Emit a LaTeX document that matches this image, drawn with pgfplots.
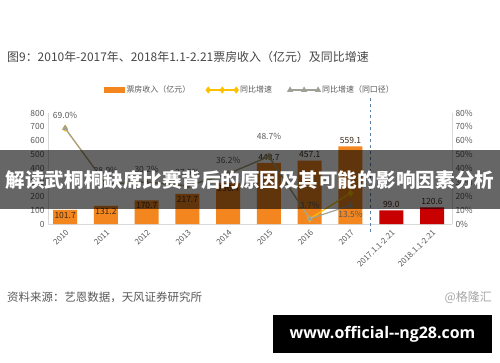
\documentclass[border=0pt]{standalone}
\usepackage{fontspec}
\setmainfont{Noto Sans CJK SC}
\newfontfamily\wmfont{Open Sans}
\usepackage{pgfplots}
\pgfplotsset{compat=1.18}
\definecolor{orangebar}{RGB}{243,134,31}
\definecolor{redbar}{RGB}{200,0,0}
\definecolor{goldline}{RGB}{255,192,0}
\definecolor{grayline}{RGB}{160,160,150}
\definecolor{txt}{RGB}{89,89,89}
\definecolor{axisgray}{RGB}{217,217,217}
\definecolor{dashblue}{RGB}{91,127,168}
\definecolor{bartxt}{RGB}{60,40,20}
\begin{document}
\begin{tikzpicture}[x=1bp,y=1bp]
\useasboundingbox (0,0) rectangle (500,362);
\fill[white] (0,0) rectangle (500,362);
\node[anchor=west, inner sep=0, text=black!72, font=\fontsize{12}{14}\selectfont] at (7,305) {图9：2010年-2017年、2018年1.1-2.21票房收入（亿元）及同比增速};

\pgfplotsset{common/.style={
  at={(48bp,138bp)}, anchor=south west, scale only axis,
  width=404bp, height=111bp, xmin=-0.42, xmax=9.49,
  /pgf/number format/assume math mode=true,
  major tick length=0pt, clip=false,
  axis line style={-, draw=axisgray, line width=0.8bp},
  tick label style={font=\fontsize{8.5}{10}\selectfont, text=txt},
}}
\begin{axis}[common,
  ymin=0, ymax=800, ytick={0,100,...,800},
  axis y line*=left, axis x line*=bottom,
  xtick={0,...,9},
  xticklabels={2010,2011,2012,2013,2014,2015,2016,2017,2017.1.1-2.21,2018.1.1-2.21},
  x tick label style={rotate=45, anchor=north east, font=\fontsize{8}{10}\selectfont},
  nodes near coords style={font=\fontsize{8.5}{10}\selectfont, text=bartxt},
]
\addplot[ybar, bar width=24bp, bar shift=0pt, fill=orangebar, draw=none,
  point meta=y, nodes near coords={\pgfmathprintnumber[fixed,fixed zerofill,precision=1]{\pgfplotspointmeta}},
  every node near coord/.append style={anchor=north, yshift=1bp}]
  coordinates {(0,101.7)(1,131.2)(2,170.7)(3,217.7)(4,296.4)};
\addplot[ybar, bar width=24bp, bar shift=0pt, fill=orangebar, draw=none,
  point meta=y, nodes near coords={\pgfmathprintnumber[fixed,fixed zerofill,precision=1]{\pgfplotspointmeta}},
  every node near coord/.append style={anchor=south, yshift=-1bp}]
  coordinates {(5,440.7)(6,457.1)(7,559.1)};
\addplot[ybar, bar width=24bp, bar shift=0pt, fill=redbar, draw=none,
  point meta=y, nodes near coords={\pgfmathprintnumber[fixed,fixed zerofill,precision=1]{\pgfplotspointmeta}},
  every node near coord/.append style={anchor=south, yshift=-1bp}]
  coordinates {(8,99.0)(9,120.6)};
\draw[dashblue, dashed, line width=0.9bp] (axis cs:7.5,-58) -- (axis cs:7.5,930);
\end{axis}

\begin{axis}[common,
  ymin=0, ymax=80, ytick={0,10,...,80},
  yticklabel={\pgfmathprintnumber{\tick}\%},
  axis y line*=right, axis x line=none,
  legend columns=3,
  legend style={at={(0.5,1.207)}, anchor=center, draw=none, fill=none,
    font=\fontsize{8}{10}\selectfont, text=txt,
    /tikz/every even column/.append style={column sep=14bp}},
  legend image code/.code={\draw[#1] plot coordinates {(0bp,0bp)(14bp,0bp)(28bp,0bp)};},
  nodes near coords style={font=\fontsize{8.5}{10}\selectfont, text=txt},
]
\addlegendimage{legend image code/.code={\fill[orangebar] (0bp,-2.5bp) rectangle (20bp,2.5bp);}}
\addlegendentry{票房收入（亿元）}
\addplot[goldline, line width=1.2bp, mark=diamond*, mark size=2.6bp, mark options={fill=goldline}]
  coordinates {(0,69.0)(1,28.9)(2,30.2)(3,27.5)(4,36.2)(5,48.7)(6,3.7)(7,22.3)};
\addlegendentry{同比增速}
\addplot[grayline, line width=1.2bp, mark=triangle*, mark size=2.4bp,
  point meta=explicit symbolic, nodes near coords,
  every node near coord/.append style={anchor=south, yshift=6bp}]
  coordinates {(0,69.0)[69.0\%] (1,28.9)[28.9\%] (2,30.2)[30.2\%] (3,27.5)[27.5\%] (4,36.2)[36.2\%] (5,48.7)[] (6,3.7)[3.7\%] (7,13.5)[]};
\addlegendentry{同比增速（同口径）}
\addplot[draw=none, no marks, forget plot, point meta=explicit symbolic, nodes near coords,
  every node near coord/.append style={anchor=south, yshift=13bp}]
  coordinates {(5,48.7)[48.7\%]};
\addplot[draw=none, no marks, forget plot, point meta=explicit symbolic, nodes near coords,
  every node near coord/.append style={anchor=north, yshift=-2bp}]
  coordinates {(7,13.5)[13.5\%]};
\end{axis}

% overlay banner
\fill[black, opacity=0.6] (0,153) rectangle (500,212);
\node[text=white, font=\bfseries\fontsize{19.6}{24}\selectfont, inner sep=0] at (250,182) {解读武桐桐缺席比赛背后的原因及其可能的影响因素分析};

\node[anchor=west, inner sep=0, text=black!65, font=\fontsize{11.5}{13}\selectfont] at (7,65) {资料来源：艺恩数据，天风证券研究所};
\node[anchor=east, inner sep=0, text=black!35, font=\fontsize{12}{14}\selectfont] at (492,65) {@格隆汇};

\fill[black] (273,9) rectangle (492,47);
\node[text=white, inner sep=0, font=\wmfont\bfseries\fontsize{16}{18}\selectfont] at (382.5,28) {www.official--ng28.com};
\end{tikzpicture}
\end{document}
